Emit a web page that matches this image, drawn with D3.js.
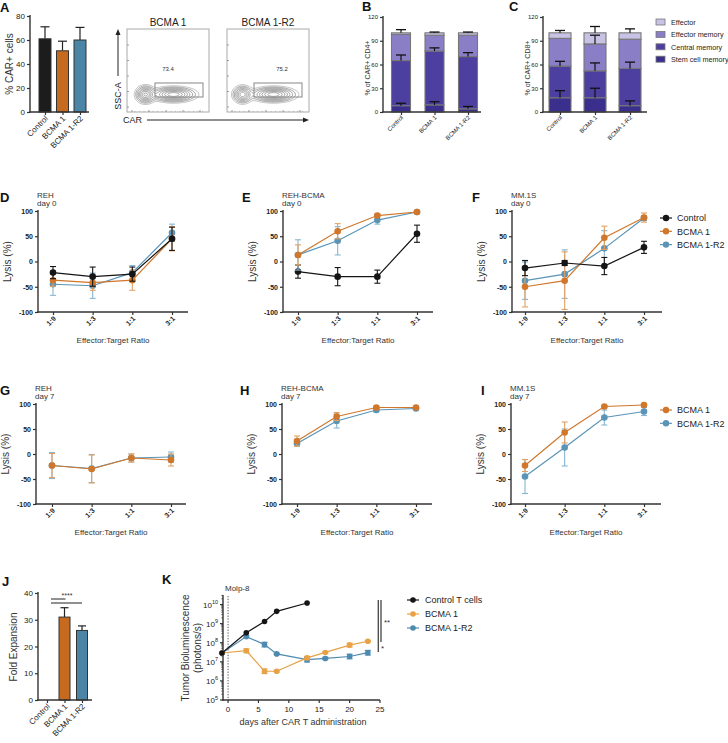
<!DOCTYPE html>
<html><head><meta charset="utf-8">
<script src="https://cdn.jsdelivr.net/npm/d3@7"></script>
<style>body{margin:0;background:#fff}svg{display:block}</style>
</head><body><svg id="c" width="728" height="743"></svg>
<script>
// ================= DATA =================
const groups = ["Control", "BCMA 1", "BCMA 1-R2"];
const carPositive = [61, 51, 60];
const carPositiveSd = [10, 8, 10.5];

const subsetNames = ["Stem cell memory", "Central memory", "Effector memory", "Effector"];
const cd4Subsets = [[8, 57, 33, 2], [9, 68, 20, 3], [4, 66, 27, 3]];
const cd4SubsetsSd = [[3, 7, 0, 4], [4, 4, 0, 1], [3, 5, 0, 1]];
const cd8Subsets = [[18, 40, 35, 7], [18, 34, 34, 14], [8, 47, 37, 8]];
const cd8SubsetsSd = [[9, 6, 0, 3], [12, 10, 11, 8], [6, 8, 0, 5]];

const flowTitles = ["BCMA 1", "BCMA 1-R2"];
const flowGatePct = ["73.4", "75.2"];
// gaussian populations: [cx, cy, sx, sy, amplitude] in plot pixels
const flowNegPop = [[18, 65, 4.5, 4, 0.9], [15, 65, 4.5, 4, 0.8]];
const flowPosPop = [[46, 65, 10, 3.4, 1.0], [46, 65, 10, 3.4, 1.0]];

const ratios = ["1:9", "1:3", "1:1", "3:1"];
// D: REH day 0
const dControl = [-22, -30, -25, 45], dControlSd = [12, 19, 14, 23];
const dBcma1 = [-37, -42, -37, 45], dBcma1Sd = [12, 15, 20, 24];
const dR2 = [-45, -48, -22, 57], dR2Sd = [22, 25, 14, 17];
// E: REH-BCMA day 0
const eControl = [-20, -30, -30, 55], eControlSd = [13, 18, 13, 17];
const eBcma1 = [13, 60, 91, 98], eBcma1Sd = [20, 15, 3, 1];
const eR2 = [13, 41, 82, 98], eR2Sd = [30, 28, 8, 1];
// F: MM.1S day 0
const fControl = [-13, -3, -9, 28], fControlSd = [15, 5, 17, 12];
const fBcma1 = [-50, -38, 47, 87], fBcma1Sd = [40, 57, 23, 9];
const fR2 = [-38, -25, 26, 86], fR2Sd = [37, 48, 35, 5];
// G: REH day 7
const gBcma1 = [-23, -30, -8, -12], gBcma1Sd = [24, 28, 8, 12];
const gR2 = [-23, -29, -8, -6], gR2Sd = [26, 28, 8, 10];
// H: REH-BCMA day 7
const hBcma1 = [26, 75, 93, 93], hBcma1Sd = [10, 8, 3, 2];
const hR2 = [21, 66, 88, 91], hR2Sd = [5, 14, 4, 2];
// I: MM.1S day 7
const iBcma1 = [-23, 43, 95, 98], iBcma1Sd = [12, 21, 2, 2];
const iR2 = [-45, 13, 73, 85], iR2Sd = [34, 37, 15, 8];

// J: fold expansion
const expansion = [0, 31, 26];
const expansionSd = [0, 3.5, 1.7];

// K: tumor bioluminescence
const daysControl = [-1, 3, 6, 8, 13];
const bliControl = [2.9e7, 3.3e8, 1.3e9, 4.4e9, 1.2e10];
const daysCar = [-1, 3, 6, 8, 13, 16, 20, 23];
const bliBcma1 = [2.9e7, 3.8e7, 3.2e6, 3.2e6, 1.6e7, 3.1e7, 7.5e7, 1.2e8];
const bliBcma1Sd = [0, 0.1, 0.12, 0.04, 0.08, 0.04, 0.1, 0.04];
const bliR2 = [2.9e7, 2.1e8, 8e7, 2.6e7, 1.3e7, 1.5e7, 1.9e7, 3e7];
const bliR2Sd = [0, 0.06, 0.12, 0.04, 0.12, 0.06, 0.12, 0.12];
const kLegend = ["Control T cells", "BCMA 1", "BCMA 1-R2"];

// ================= STYLE =================
const FONT = '"Liberation Sans", Arial, Helvetica, sans-serif';
const AX = "#333";
const barColors = ["#1c1c1c", "#c66a1f", "#4a85a6"];
const subsetColors = ["#3a2f8d", "#4c3f9f", "#8a7ec6", "#c8c2e5"];
const lineColors = {Control: "#151515", "BCMA 1": "#d0772b", "BCMA 1-R2": "#5a94b7"};
const errColors = {Control: "#151515", "BCMA 1": "#e3a062", "BCMA 1-R2": "#88b6d1"};
const kColors = ["#151515", "#e8a145", "#4d8ab0"];

const svg = d3.select("#c").attr("font-family", FONT);

function text(x, y, s, o = {}) {
  const t = svg.append("text").attr("x", x).attr("y", y).text(s)
    .attr("font-size", o.size || 8).attr("fill", o.fill || "#222")
    .attr("font-weight", o.bold ? "bold" : "normal")
    .attr("text-anchor", o.anchor || "start");
  if (o.rotate !== undefined) t.attr("transform", `rotate(${o.rotate},${x},${y})`);
  return t;
}
function line(x1, y1, x2, y2, o = {}) {
  return svg.append("line").attr("x1", x1).attr("y1", y1).attr("x2", x2).attr("y2", y2)
    .attr("stroke", o.stroke || AX).attr("stroke-width", o.w || 1.4)
    .attr("stroke-dasharray", o.dash || null).attr("opacity", o.op || 1);
}
function letter(x, y, s) { text(x, y, s, {size: 13, bold: true, fill: "#111"}); }

function yAxis(scale, x, ticks, size, bold, fmt) {
  const ax = d3.axisLeft(scale).tickValues(ticks).tickSize(3).tickSizeOuter(0).tickPadding(2)
    .tickFormat(fmt || (d => String(d)));
  const a = svg.append("g").attr("transform", `translate(${x},0)`).call(ax);
  a.select(".domain").remove();
  a.selectAll("line").attr("stroke", AX).attr("stroke-width", 1.2);
  a.selectAll("text").attr("font-size", size).attr("font-weight", bold ? "bold" : "normal")
    .attr("fill", "#222").attr("font-family", FONT);
  return a;
}
function xCatAxis(scale, y, size, bold, dx, dy) {
  const ax = d3.axisBottom(scale).tickSize(3).tickSizeOuter(0);
  const a = svg.append("g").attr("transform", `translate(0,${y})`).call(ax);
  a.select(".domain").remove();
  a.selectAll("line").attr("stroke", AX).attr("stroke-width", 1.2);
  a.selectAll("text").attr("font-size", size).attr("font-weight", bold ? "bold" : "normal")
    .attr("fill", "#222").attr("font-family", FONT)
    .attr("x", 0).attr("y", 0).attr("dy", 0)
    .attr("text-anchor", "end").attr("transform", `translate(${dx},${dy}) rotate(-45)`);
  return a;
}

// ================= PANEL A =================
letter(0, 12, "A");
{
  const y = d3.scaleLinear().domain([0, 80]).range([112, 16]);
  const x = d3.scalePoint().domain(groups).range([45, 80]);
  const bw = 12;
  groups.forEach((g, i) => {
    const top = y(carPositive[i] + carPositiveSd[i]);
    line(x(g), top, x(g), y(carPositive[i]), {w: 1.2, stroke: "#222"});
    line(x(g) - 4.5, top, x(g) + 4.5, top, {w: 1.2, stroke: "#222"});
    svg.append("rect").attr("x", x(g) - bw / 2).attr("y", y(carPositive[i]))
      .attr("width", bw).attr("height", y(0) - y(carPositive[i]))
      .attr("fill", barColors[i]).attr("stroke", "#333").attr("stroke-width", 1);
  });
  line(30, 15, 30, 112.7);
  line(29.3, 112, 89, 112);
  yAxis(y, 30, [0, 20, 40, 60, 80], 8, false);
  xCatAxis(x, 112, 8, false, 3, 7);
  text(13, 64, "% CAR+ cells", {size: 10, anchor: "middle", rotate: -90, fill: "#333"});
}

// ================= FLOW PLOTS =================
{
  const boxes = [[127, 29], [227, 29]];
  const W = 82, H = 83;
  flowTitles.forEach((title, k) => {
    const [bx, by] = boxes[k];
    text(bx + W / 2, 26, title, {size: 10, anchor: "middle", fill: "#222"});
    const vals = new Array(W * H);
    const pops = [flowNegPop[k], flowPosPop[k]];
    for (let j = 0; j < H; j++) for (let i = 0; i < W; i++) {
      let v = 0;
      pops.forEach(([cx, cy, sx, sy, a]) => {
        v += a * Math.exp(-((i - cx) ** 2) / (2 * sx * sx) - ((j - cy) ** 2) / (2 * sy * sy));
      });
      vals[j * W + i] = v;
    }
    const cont = d3.contours().size([W, H]).thresholds([0.04, 0.09, 0.16, 0.26, 0.38, 0.52, 0.68, 0.85])(vals);
    const path = d3.geoPath(d3.geoIdentity().translate([bx, by]));
    svg.append("g").selectAll("path").data(cont).join("path")
      .attr("d", path).attr("fill", "none").attr("stroke", "#555")
      .attr("stroke-width", 0.6).attr("opacity", (d, i) => i === 0 ? 0.6 : 0.9);
    svg.append("rect").attr("x", bx).attr("y", by).attr("width", W).attr("height", H)
      .attr("fill", "none").attr("stroke", "#aaa").attr("stroke-width", 1);
    d3.range(0, 5).forEach(t => {
      const yy = by + H - 5 - t * 15.5;
      line(bx, yy, bx + 2, yy, {w: 0.8, stroke: "#888"});
      const xx = bx + 5 + t * 17;
      line(xx, by + H, xx, by + H - 2, {w: 0.8, stroke: "#888"});
    });
    d3.range(0, 16).forEach(t => {
      const xx = bx + 8 + t * 4.5;
      line(xx, by + H, xx, by + H - 1.2, {w: 0.5, stroke: "#999"});
    });
    svg.append("rect").attr("x", bx + (k === 0 ? 28 : 27)).attr("y", by + 54).attr("width", 48).attr("height", 14)
      .attr("fill", "none").attr("stroke", "#888").attr("stroke-width", 1);
    text(bx + (k === 0 ? 41 : 55), 71, flowGatePct[k], {size: 6, anchor: "middle", fill: "#333"});
  });
  line(118, 76, 118, 34, {w: 1, stroke: "#222"});
  svg.append("path").attr("d", "M118,29 L115.5,35 L120.5,35 Z").attr("fill", "#222");
  text(121, 96, "SSC-A", {size: 9, anchor: "middle", rotate: -90, fill: "#222"});
  text(123, 123, "CAR", {size: 9, fill: "#222"});
  line(147, 120, 304, 120, {w: 1, stroke: "#222"});
  svg.append("path").attr("d", "M309,120 L303,117.5 L303,122.5 Z").attr("fill", "#222");
}

// ================= STACKED PANELS B, C =================
function stackedPanel(o) {
  const y = d3.scaleLinear().domain([0, 120]).range([112, 17]);
  const x = d3.scalePoint().domain(groups).range(o.range);
  groups.forEach((g, i) => {
    let base = 0;
    const segs = [];
    o.values[i].forEach((v, s) => {
      segs.push({s, y0: base, y1: base + v, sd: o.sd[i][s]});
      base += v;
    });
    segs.forEach(d => {
      svg.append("rect").attr("x", x(g) - o.bw / 2).attr("y", y(d.y1))
        .attr("width", o.bw).attr("height", y(d.y0) - y(d.y1))
        .attr("fill", subsetColors[d.s]).attr("stroke", "#777").attr("stroke-width", 1.1);
    });
    segs.forEach(d => {
      if (!d.sd) return;
      const t = y(d.y1 + d.sd);
      line(x(g), y(d.y1), x(g), t, {w: 1.2, stroke: "#111"});
      line(x(g) - 5, t, x(g) + 5, t, {w: 1.3, stroke: "#111"});
    });
  });
  line(o.axisX, 16, o.axisX, 112.6);
  line(o.axisX - 0.6, 112, o.axisEnd, 112);
  yAxis(y, o.axisX, [0, 30, 60, 90, 120], 6, false);
  xCatAxis(x, 112, 6, false, 2, 6);
  text(o.labelX, 68, o.label, {size: 7, anchor: "middle", rotate: -90, fill: "#333"});
}
letter(362, 11, "B");
stackedPanel({values: cd4Subsets, sd: cd4SubsetsSd, range: [401, 468], bw: 19, axisX: 383, axisEnd: 481, label: "% of CAR+ CD4+", labelX: 370});
letter(509, 11, "C");
stackedPanel({values: cd8Subsets, sd: cd8SubsetsSd, range: [560, 630], bw: 22, axisX: 543, axisEnd: 647, label: "% of CAR+ CD8+", labelX: 530});
[3, 2, 1, 0].forEach((s, r) => {
  const yy = 22 + r * 12.4;
  svg.append("rect").attr("x", 656).attr("y", yy - 3).attr("width", 9).attr("height", 6)
    .attr("fill", subsetColors[s]).attr("stroke", "#777").attr("stroke-width", 0.8);
  text(671, yy + 3, subsetNames[s], {size: 7.2, fill: "#222"});
});

// ================= LYSIS PANELS =================
function lysisPanel(o) {
  const y = d3.scaleLinear().domain([-100, 100]).range([o.yBot, o.yTop]);
  const x = d3.scalePoint().domain(ratios).range([o.x1, o.x1 + 119]);
  letter(o.letterX, o.yTop - 9, o.letter);
  text(o.axisX - 1, o.yTop - 13, o.title, {size: 8, fill: "#333"});
  text(o.axisX - 1, o.yTop - 5, o.day, {size: 8, fill: "#333"});
  line(o.axisX, o.yTop - 1, o.axisX, o.yBot + 0.7);
  line(o.axisX - 0.7, o.yBot, o.axisX + 150, o.yBot);
  yAxis(y, o.axisX, [-100, -50, 0, 50, 100], 7, true);
  xCatAxis(x, o.yBot, 7, true, 3, 7);
  text(o.axisX - 27, (o.yTop + o.yBot) / 2, "Lysis (%)", {size: 10, anchor: "middle", rotate: -90, fill: "#333"});
  text(o.axisX + 75, o.yBot + 31, "Effector:Target Ratio", {size: 8, anchor: "middle", fill: "#333"});
  o.series.forEach(s => {
    const g = svg.append("g");
    s.v.forEach((v, i) => {
      const xx = x(ratios[i]);
      const lo = Math.max(-100, v - s.sd[i]), hi = Math.min(100, v + s.sd[i]);
      g.append("line").attr("x1", xx).attr("x2", xx).attr("y1", y(lo)).attr("y2", y(hi))
        .attr("stroke", errColors[s.name]).attr("stroke-width", 1.1);
      [lo, hi].forEach(e => g.append("line").attr("x1", xx - 3).attr("x2", xx + 3).attr("y1", y(e)).attr("y2", y(e))
        .attr("stroke", errColors[s.name]).attr("stroke-width", 1.1));
    });
    g.append("path").datum(s.v).attr("fill", "none").attr("stroke", lineColors[s.name]).attr("stroke-width", 1.2)
      .attr("d", d3.line().x((d, i) => x(ratios[i])).y(d => y(d)));
    g.selectAll("circle").data(s.v).join("circle")
      .attr("cx", (d, i) => x(ratios[i])).attr("cy", d => y(d)).attr("r", 3.3)
      .attr("fill", lineColors[s.name]);
  });
  if (o.legend) {
    o.legend.forEach((name, r) => {
      const yy = o.legendY + r * 13.3;
      line(660, yy, 672, yy, {w: 1.2, stroke: lineColors[name]});
      svg.append("circle").attr("cx", 666).attr("cy", yy).attr("r", 3.2).attr("fill", lineColors[name]);
      text(677, yy + 3.3, name, {size: 9, fill: "#222"});
    });
  }
}
const S = (name, v, sd) => ({name, v, sd});
lysisPanel({letter: "D", letterX: 0, title: "REH", day: "day 0", axisX: 38, x1: 53, yTop: 211, yBot: 312,
  series: [S("BCMA 1-R2", dR2, dR2Sd), S("BCMA 1", dBcma1, dBcma1Sd), S("Control", dControl, dControlSd)]});
lysisPanel({letter: "E", letterX: 242, title: "REH-BCMA", day: "day 0", axisX: 283, x1: 298, yTop: 211, yBot: 312,
  series: [S("Control", eControl, eControlSd), S("BCMA 1-R2", eR2, eR2Sd), S("BCMA 1", eBcma1, eBcma1Sd)]});
lysisPanel({letter: "F", letterX: 472, title: "MM.1S", day: "day 0", axisX: 512, x1: 525, yTop: 211, yBot: 312,
  series: [S("BCMA 1-R2", fR2, fR2Sd), S("BCMA 1", fBcma1, fBcma1Sd), S("Control", fControl, fControlSd)],
  legend: ["Control", "BCMA 1", "BCMA 1-R2"], legendY: 218});
lysisPanel({letter: "G", letterX: 0, title: "REH", day: "day 7", axisX: 36, x1: 52, yTop: 404, yBot: 504,
  series: [S("BCMA 1-R2", gR2, gR2Sd), S("BCMA 1", gBcma1, gBcma1Sd)]});
lysisPanel({letter: "H", letterX: 240, title: "REH-BCMA", day: "day 7", axisX: 282, x1: 297, yTop: 404, yBot: 504,
  series: [S("BCMA 1-R2", hR2, hR2Sd), S("BCMA 1", hBcma1, hBcma1Sd)]});
lysisPanel({letter: "I", letterX: 481, title: "MM.1S", day: "day 7", axisX: 511, x1: 525, yTop: 404, yBot: 504,
  series: [S("BCMA 1-R2", iR2, iR2Sd), S("BCMA 1", iBcma1, iBcma1Sd)],
  legend: ["BCMA 1", "BCMA 1-R2"], legendY: 410});

// ================= PANEL J =================
letter(2, 586, "J");
{
  const y = d3.scaleLinear().domain([0, 40]).range([700, 593]);
  const x = d3.scalePoint().domain(groups).range([47, 82]);
  const bw = 11;
  groups.forEach((g, i) => {
    if (expansion[i] <= 0) return;
    const top = y(expansion[i] + expansionSd[i]);
    line(x(g), top, x(g), y(expansion[i]), {w: 1.2, stroke: "#222"});
    line(x(g) - 4, top, x(g) + 4, top, {w: 1.2, stroke: "#222"});
    svg.append("rect").attr("x", x(g) - bw / 2).attr("y", y(expansion[i]))
      .attr("width", bw).attr("height", y(0) - y(expansion[i]))
      .attr("fill", barColors[i]).attr("stroke", "#333").attr("stroke-width", 1);
  });
  line(38, 592, 38, 700.7);
  line(37.3, 700, 92, 700);
  yAxis(y, 38, [0, 10, 20, 30, 40], 8, false);
  xCatAxis(x, 700, 8, false, 3, 7);
  text(17, 647, "Fold  Expansion", {size: 10, anchor: "middle", rotate: -90, fill: "#333"});
  line(x(groups[0]) + 4, 599, x(groups[1]) + 1, 599, {w: 1.3, stroke: "#555"});
  line(x(groups[0]) + 4, 603, x(groups[2]), 603, {w: 1.3, stroke: "#555"});
  text(67, 598, "****", {size: 7, anchor: "middle", fill: "#333"});
}

// ================= PANEL K =================
letter(162, 584, "K");
{
  const y = d3.scaleLog().domain([1e5, Math.pow(10, 10.5)]).range([700, 595]);
  const x = d3.scaleLinear().domain([-1, 25]).range([222, 380]);
  line(223, 595, 223, 700.7);
  line(222.3, 700, 380, 700);
  d3.range(5, 11).forEach(e => {
    line(220, y(Math.pow(10, e)), 223, y(Math.pow(10, e)), {w: 1.2});
    const t = svg.append("text").attr("x", 218).attr("y", y(Math.pow(10, e)) + 3)
      .attr("text-anchor", "end").attr("font-size", 8).attr("fill", "#222");
    t.append("tspan").text("10");
    t.append("tspan").attr("dy", -3.5).attr("font-size", 5.5).text(String(e));
    if (e < 10) d3.range(2, 10).forEach(m => {
      const yy = y(m * Math.pow(10, e));
      line(221.3, yy, 223, yy, {w: 0.7});
    });
  });
  [2, 3].forEach(m => { const yy = y(m * 1e10); line(221.3, yy, 223, yy, {w: 0.7}); });
  [0, 5, 10, 15, 20, 25].forEach(d => {
    line(x(d), 700, x(d), 703, {w: 1.2});
    text(x(d), 712, String(d), {size: 8, anchor: "middle", fill: "#222"});
  });
  text(303, 725, "days after CAR T administration", {size: 9, anchor: "middle", fill: "#333"});
  text(189, 648, "Tumor Bioluminescence", {size: 10, anchor: "middle", rotate: -90, fill: "#333"});
  text(201, 648, "(photons/s)", {size: 10, anchor: "middle", rotate: -90, fill: "#333"});
  line(x(0), 596, x(0), 700, {w: 1, stroke: "#555", dash: "1.3,1.5"});
  text(225, 591, "Molp-8", {size: 8, fill: "#333"});
  const series = [
    {days: daysCar, v: bliR2, sd: bliR2Sd, c: kColors[2]},
    {days: daysCar, v: bliBcma1, sd: bliBcma1Sd, c: kColors[1]},
    {days: daysControl, v: bliControl, sd: null, c: kColors[0]}
  ];
  series.forEach(s => {
    const g = svg.append("g");
    if (s.sd) s.v.forEach((v, i) => {
      if (!s.sd[i]) return;
      const a = y(v / Math.pow(10, s.sd[i])), b = y(v * Math.pow(10, s.sd[i])), xx = x(s.days[i]);
      g.append("line").attr("x1", xx).attr("x2", xx).attr("y1", a).attr("y2", b).attr("stroke", s.c).attr("stroke-width", 1.2);
      [a, b].forEach(e => g.append("line").attr("x1", xx - 3).attr("x2", xx + 3).attr("y1", e).attr("y2", e)
        .attr("stroke", s.c).attr("stroke-width", 1.2));
    });
    g.append("path").datum(s.v).attr("fill", "none").attr("stroke", s.c).attr("stroke-width", 1.2)
      .attr("d", d3.line().x((d, i) => x(s.days[i])).y(d => y(d)));
    g.selectAll("circle").data(s.v).join("circle")
      .attr("cx", (d, i) => x(s.days[i])).attr("cy", d => y(d)).attr("r", 2.8).attr("fill", s.c);
  });
  line(378.3, 600, 378.3, 652, {w: 1.3, stroke: "#444"});
  line(381, 600, 381, 642, {w: 1.3, stroke: "#444"});
  text(384, 625, "**", {size: 8, fill: "#333"});
  text(381, 651, "*", {size: 8, fill: "#333"});
  kLegend.forEach((name, r) => {
    const yy = 600 + r * 14;
    line(407, yy, 419, yy, {w: 1.2, stroke: kColors[r]});
    svg.append("circle").attr("cx", 413).attr("cy", yy).attr("r", 2.8).attr("fill", kColors[r]);
    text(425, yy + 3.2, name, {size: 9, fill: "#222"});
  });
}
</script></body></html>
